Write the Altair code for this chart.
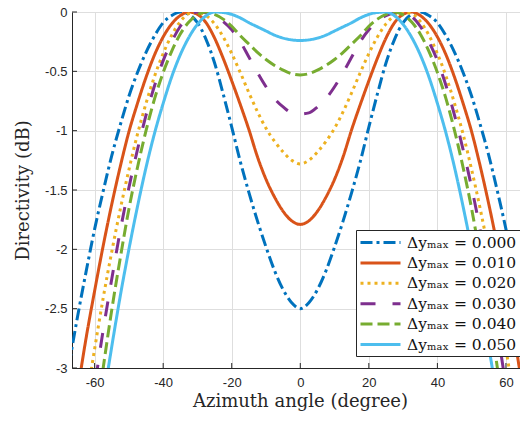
import altair as alt
import pandas as pd

angle = [-67.5, -65, -62.5, -60, -57.5, -55, -52.5, -50, -47.5, -45, -42.5, -40, -37.5, -35,
         -32.5, -30, -27.5, -25, -22.5, -20, -17.5, -15, -12.5, -10, -7.5, -5, -2.5, 0,
         2.5, 5, 7.5, 10, 12.5, 15, 17.5, 20, 22.5, 25, 27.5, 30, 32.5, 35,
         37.5, 40, 42.5, 45, 47.5, 50, 52.5, 55, 57.5, 60, 62.5, 65, 67.5]

d000 = [-2.98, -2.57, -2.19, -1.83, -1.51, -1.21, -0.95, -0.71, -0.51, -0.34, -0.20, -0.09, -0.03, 0.00,
        -0.02, -0.09, -0.23, -0.43, -0.69, -0.97, -1.26, -1.52, -1.76, -1.98, -2.18, -2.34, -2.45, -2.50,
        -2.45, -2.34, -2.18, -1.98, -1.76, -1.52, -1.26, -0.97, -0.69, -0.43, -0.23, -0.09, -0.02, 0.00,
        -0.03, -0.09, -0.20, -0.34, -0.51, -0.71, -0.95, -1.21, -1.51, -1.83, -2.19, -2.57, -2.98]
d010 = [-3.66, -3.20, -2.75, -2.35, -1.97, -1.62, -1.30, -1.01, -0.77, -0.55, -0.36, -0.21, -0.10, -0.03,
        0.00, -0.02, -0.09, -0.22, -0.39, -0.58, -0.78, -0.99, -1.22, -1.41, -1.56, -1.68, -1.76, -1.79,
        -1.76, -1.68, -1.56, -1.41, -1.22, -0.99, -0.78, -0.58, -0.39, -0.22, -0.09, -0.02, 0.00, -0.03,
        -0.10, -0.21, -0.36, -0.55, -0.77, -1.01, -1.30, -1.62, -1.97, -2.35, -2.75, -3.20, -3.66]
d020 = [-4.30, -3.77, -3.29, -2.84, -2.41, -2.02, -1.66, -1.33, -1.03, -0.77, -0.54, -0.35, -0.195, -0.08,
        -0.014, -0.004, -0.03, -0.10, -0.21, -0.35, -0.51, -0.68, -0.84, -0.98, -1.09, -1.18, -1.25, -1.28,
        -1.25, -1.18, -1.09, -0.98, -0.84, -0.68, -0.51, -0.35, -0.21, -0.10, -0.03, -0.004, -0.014, -0.08,
        -0.195, -0.35, -0.54, -0.77, -1.03, -1.33, -1.66, -2.02, -2.41, -2.84, -3.29, -3.77, -4.30]
d030 = [-4.70, -4.20, -3.67, -3.16, -2.68, -2.25, -1.84, -1.48, -1.16, -0.87, -0.62, -0.41, -0.25, -0.12,
        -0.038, 0.00, -0.007, -0.03, -0.08, -0.15, -0.25, -0.38, -0.51, -0.63, -0.73, -0.80, -0.85, -0.86,
        -0.85, -0.80, -0.73, -0.63, -0.51, -0.38, -0.25, -0.15, -0.08, -0.03, -0.007, 0.00, -0.038, -0.12,
        -0.25, -0.41, -0.62, -0.87, -1.16, -1.48, -1.84, -2.25, -2.68, -3.16, -3.67, -4.20, -4.70]
d040 = [-5.30, -4.70, -4.10, -3.53, -3.00, -2.51, -2.07, -1.66, -1.31, -1.00, -0.73, -0.51, -0.33, -0.185,
        -0.085, -0.024, 0.00, -0.02, -0.06, -0.12, -0.20, -0.27, -0.34, -0.40, -0.45, -0.49, -0.52, -0.53,
        -0.52, -0.49, -0.45, -0.40, -0.34, -0.27, -0.20, -0.12, -0.06, -0.02, 0.00, -0.024, -0.085, -0.185,
        -0.33, -0.51, -0.73, -1.00, -1.31, -1.66, -2.07, -2.51, -3.00, -3.53, -4.10, -4.70, -5.30]
d050 = [-5.50, -4.90, -4.30, -3.80, -3.28, -2.82, -2.39, -2.00, -1.64, -1.31, -1.02, -0.77, -0.545, -0.36,
        -0.214, -0.104, -0.032, 0.00, -0.004, -0.02, -0.05, -0.09, -0.125, -0.16, -0.195, -0.22, -0.235, -0.24,
        -0.235, -0.22, -0.195, -0.16, -0.125, -0.09, -0.05, -0.02, -0.004, 0.00, -0.032, -0.104, -0.214, -0.36,
        -0.545, -0.77, -1.02, -1.31, -1.64, -2.00, -2.39, -2.82, -3.28, -3.80, -4.30, -4.90, -5.50]

labels = ["Δyₘₐₓ = 0.000", "Δyₘₐₓ = 0.010", "Δyₘₐₓ = 0.020",
          "Δyₘₐₓ = 0.030", "Δyₘₐₓ = 0.040", "Δyₘₐₓ = 0.050"]
series = [d000, d010, d020, d030, d040, d050]
colors = ["#0072BD", "#D95319", "#EDB120", "#7E2F8E", "#77AC30", "#4DBEEE"]
dashes = [[12, 4, 3, 4], [1, 0], [3, 4], [15, 17], [12, 5], [1, 0]]

x_ticks = [-60, -40, -20, 0, 20, 40, 60]
y_ticks = [-3, -2.5, -2, -1.5, -1, -0.5, 0]

rows = []
for k, (lab, vals) in enumerate(zip(labels, series)):
    assert len(vals) == len(angle)
    for a, v in zip(angle, vals):
        rows.append({"angle": a, "value": v, "series": lab, "k": k})
df = pd.DataFrame(rows)

W, H = 448, 356
xscale = alt.Scale(domain=[-66.6, 64.1], nice=False, zero=False)
yscale = alt.Scale(domain=[-3, 0], nice=False, zero=False)
lab_expr = "(datum.value < 0 ? '-' : '') + abs(datum.value)"
axis_col = "#262626"

legend = alt.Legend(
    title=None, orient="none", legendX=284, legendY=218,
    symbolType="M-1,0H4", symbolSize=256, symbolStrokeWidth=3,
    labelFont="DejaVu Serif", labelFontSize=15.5, labelColor="#111111", labelLimit=250,
    labelOffset=29, rowPadding=2.4, padding=3,
    strokeColor=axis_col, fillColor="white", cornerRadius=0,
)

lines = alt.Chart(df).mark_line(strokeWidth=3, clip=True, interpolate="monotone", strokeCap="butt").encode(
    x=alt.X("angle:Q", scale=xscale,
            axis=alt.Axis(values=x_ticks, labelExpr=lab_expr, ticks=False, labelPadding=8,
                          labelFont="Liberation Sans", labelFontSize=13, labelColor=axis_col,
                          domainColor=axis_col, domainWidth=1, gridColor="#dedede", gridWidth=1,
                          title="Azimuth angle (degree)", titleFont="DejaVu Serif", titleFontSize=18,
                          titleFontWeight="normal", titleColor=axis_col, titleX=228, titleY=38.5,
                          titleBaseline="alphabetic", titleAlign="center")),
    y=alt.Y("value:Q", scale=yscale,
            axis=alt.Axis(values=y_ticks, labelExpr=lab_expr, ticks=False, labelPadding=5,
                          labelFont="Liberation Sans", labelFontSize=13, labelColor=axis_col,
                          domainColor=axis_col, domainWidth=1, gridColor="#dedede", gridWidth=1,
                          title="Directivity (dB)", titleFont="DejaVu Serif", titleFontSize=18,
                          titleFontWeight="normal", titleColor=axis_col, titleX=-44, titleY=178,
                          titleBaseline="alphabetic", titleAlign="center", titleAngle=270)),
    color=alt.Color("series:N", scale=alt.Scale(domain=labels, range=colors), legend=legend),
    strokeDash=alt.StrokeDash("series:N", scale=alt.Scale(domain=labels, range=dashes), legend=legend),
    detail="k:O",
)

xt = pd.DataFrame({"t": x_ticks})
yt = pd.DataFrame({"t": y_ticks})
xticks = alt.Chart(xt).mark_rule(color=axis_col, strokeWidth=1).encode(
    x=alt.X("t:Q", scale=xscale), y=alt.value(H - 5), y2=alt.value(H))
yticks = alt.Chart(yt).mark_rule(color=axis_col, strokeWidth=1).encode(
    y=alt.Y("t:Q", scale=yscale), x=alt.value(0), x2=alt.value(5))

chart = alt.layer(lines, xticks, yticks).properties(
    width=W, height=H, autosize="none",
    padding={"left": 72, "top": 12, "right": 0, "bottom": 55},
).configure_view(stroke=None)

chart.save("out.html", embed_options={"renderer": "svg", "actions": False})
